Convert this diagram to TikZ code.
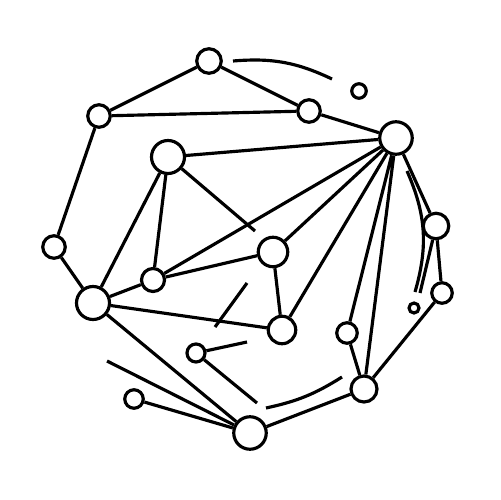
\documentclass[tikz,border=0pt]{standalone}
\begin{document}
\begin{tikzpicture}[x=0.02cm,y=-0.02cm,line width=1.8pt,
  vertex/.style={circle,draw=black,fill=white,inner sep=0pt,minimum size=#1}]
\useasboundingbox (0,0) rectangle (500,500);
\node[vertex=0.49cm] (a) at (209,61) {};
\node[vertex=0.45cm] (b) at (99,116) {};
\node[vertex=0.45cm] (c) at (309,111) {};
\node[vertex=0.29cm] (d) at (359,91) {};
\node[vertex=0.65cm] (e) at (396,138) {};
\node[vertex=0.66cm] (f) at (168,157) {};
\node[vertex=0.45cm] (g) at (54,247) {};
\node[vertex=0.66cm] (h) at (93,303) {};
\node[vertex=0.46cm] (i) at (153,280) {};
\node[vertex=0.59cm] (j) at (273,252) {};
\node[vertex=0.55cm] (k) at (282,330) {};
\node[vertex=0.51cm] (l) at (436,226) {};
\node[vertex=0.41cm] (m) at (442,293) {};
\node[vertex=0.2cm] (n) at (414,308) {};
\node[vertex=0.41cm] (o) at (347,333) {};
\node[vertex=0.52cm] (p) at (364,389) {};
\node[vertex=0.36cm] (q) at (196,353) {};
\node[vertex=0.37cm] (r) at (134,399) {};
\node[vertex=0.65cm] (s) at (250,433) {};
\coordinate (f1) at (255,231);
\coordinate (x1) at (215,327);
\coordinate (x2) at (247,283);
\coordinate (q1) at (247,342);
\coordinate (q2) at (257,403);
\coordinate (s1) at (107,361);
\coordinate (l1) at (420,293);
\coordinate (t1) at (233,61);
\coordinate (t2) at (332,79);
\coordinate (u1) at (407,171);
\coordinate (u2) at (415,292);
\coordinate (v1) at (266,408);
\coordinate (v2) at (342,377);
\draw (a) -- (b) (a) -- (c) (b) -- (c) (c) -- (e) (b) -- (g) (g) -- (h);
\draw (f) -- (e) (f) -- (i) (f) -- (h) (h) -- (i) (i) -- (e) (i) -- (j);
\draw (j) -- (e) (j) -- (k) (k) -- (e) (h) -- (k) (h) -- (s) (r) -- (s);
\draw (s) -- (p) (o) -- (e) (p) -- (e) (o) -- (p) (p) -- (m) (l) -- (m) (e) -- (l);
\draw (f) -- (f1) (x1) -- (x2) (q) -- (q1) (q) -- (q2) (s1) -- (s) (l) -- (l1);
\draw (t1) to[bend left=15] (t2);
\draw (u1) to[bend left=20] (u2);
\draw (v1) to[bend right=10] (v2);
\end{tikzpicture}
\end{document}
